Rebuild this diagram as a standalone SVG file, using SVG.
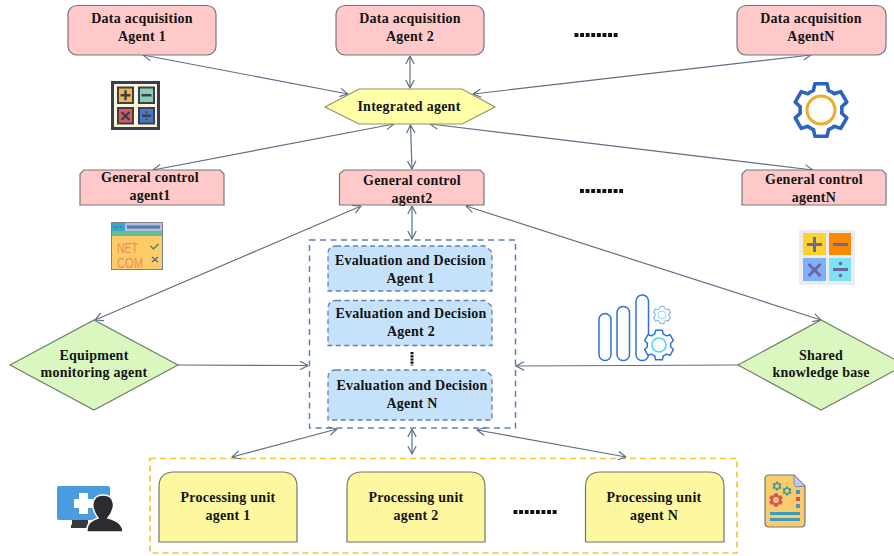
<svg xmlns="http://www.w3.org/2000/svg" xmlns:xlink="http://www.w3.org/1999/xlink" width="894" height="556" viewBox="0 0 894 556">
<style>
text{font-family:"Liberation Serif","Times New Roman",serif;font-weight:bold;font-size:14px;fill:#141414;text-anchor:middle;letter-spacing:.25px}
.pink{fill:#ffc9c9;stroke:#76767f;stroke-width:1.2}
.hex{fill:#ffffa8;stroke:#8f9468;stroke-width:1.2}
.green{fill:#daf7c0;stroke:#6f8068;stroke-width:1.2}
.eval{fill:#c6e2fb;stroke:#5f80b5;stroke-width:1.3;stroke-dasharray:5 3.5}
.pu{fill:#fdf79f;stroke:#73756e;stroke-width:1.2}
.conn line{stroke:#5f6f84;stroke-width:1.2;fill:none;marker-start:url(#a);marker-end:url(#a)}
.conn line.one{marker-start:none}
.dots{stroke:#111;stroke-width:4;stroke-dasharray:3.9 1.7;fill:none}
.ic{stroke:#3a3e50;stroke-width:2}
.net{font-family:"Liberation Sans",Arial,sans-serif;font-weight:normal;font-size:14px;fill:#f58a5a;letter-spacing:0;text-anchor:start}
</style>
<defs>
<marker id="a" viewBox="0 0 10 10" refX="9.5" refY="5" markerWidth="10" markerHeight="10" markerUnits="userSpaceOnUse" orient="auto-start-reverse">
<path d="M1.5 .8L9.5 5L1.5 9.2" fill="none" stroke="#5f6f84" stroke-width="1.2"/>
</marker>
<polyline id="s" points="-10.5,-18.19 -7.53,-19.6 -6.07,-26.3 6.07,-26.3 7.53,-19.6 10.5,-18.19" fill="none" stroke-linejoin="round"/>
<g id="gear">
<use xlink:href="#s"/><use xlink:href="#s" transform="rotate(60)"/><use xlink:href="#s" transform="rotate(120)"/><use xlink:href="#s" transform="rotate(180)"/><use xlink:href="#s" transform="rotate(240)"/><use xlink:href="#s" transform="rotate(300)"/>
</g>
<polygon id="f" points="0,0 -10.5,-18.19 -7.53,-19.6 -6.07,-26.3 6.07,-26.3 7.53,-19.6 10.5,-18.19"/>
<g id="gearf">
<use xlink:href="#f"/><use xlink:href="#f" transform="rotate(60)"/><use xlink:href="#f" transform="rotate(120)"/><use xlink:href="#f" transform="rotate(180)"/><use xlink:href="#f" transform="rotate(240)"/><use xlink:href="#f" transform="rotate(300)"/>
</g>
</defs>
<rect width="894" height="556" fill="#fff"/>

<g id="icon-calc-dark">
<rect x="112.500" y="82.500" width="46" height="46" fill="#fdf6d8" stroke="#3a3e50" stroke-width="3"/>
<rect x="118" y="87.500" width="15" height="15.500" fill="#f4b840" class="ic"/>
<rect x="139" y="87.500" width="15" height="15.500" fill="#8ccfae" class="ic"/>
<rect x="118" y="108" width="15" height="15.500" fill="#dd5a5a" class="ic"/>
<rect x="139" y="108" width="15" height="15.500" fill="#4a78c4" class="ic"/>
<path d="M120.500 95.300H130.500M125.500 90.300V100.300M141.500 95.300H151.500M121.500 112L129.500 120M129.500 112L121.500 120M142 115.800H151" fill="none" stroke="#3a3e50" stroke-width="2.400"/>
<circle cx="146.500" cy="112.300" r="1.100" fill="#3a3e50"/><circle cx="146.500" cy="119.300" r="1.100" fill="#3a3e50"/>
</g>

<g id="icon-net">
<rect x="111.500" y="222.500" width="51" height="47" fill="#fbcc68" stroke="#7c8288" stroke-width="1"/>
<rect x="112" y="223" width="13" height="8" fill="#3aa5c9"/>
<rect x="125" y="223" width="37" height="8" fill="#b7bbe9"/>
<rect x="127" y="225.500" width="33" height="3" fill="#4f7f96"/>
<path d="M114 227H122" stroke="#2a6f94" stroke-width="1" stroke-dasharray="2 1"/>
<rect x="112" y="231" width="50" height="5" fill="#69be8e"/>
<text class="net" x="117" y="252.500" textLength="21" lengthAdjust="spacingAndGlyphs">NET</text>
<text class="net" x="117" y="267.500" textLength="26" lengthAdjust="spacingAndGlyphs">COM</text>
<path d="M150.500 246L153.500 249L158.500 244M152 257L158 262M158 257L152 262" fill="none" stroke="#4d6b78" stroke-width="1.200"/>
</g>

<g id="icon-gear">
<use xlink:href="#gear" transform="translate(821 110)" stroke="#2a63c4" stroke-width="3.600"/>
<circle cx="821" cy="110" r="14" fill="none" stroke="#eeaa2a" stroke-width="3"/>
</g>

<g id="icon-calc-light">
<rect x="799" y="230" width="56" height="55" fill="#ececf0"/>
<rect x="803" y="233" width="23" height="22" fill="#fdd22f"/>
<rect x="829" y="233" width="22" height="22" fill="#f98a05"/>
<rect x="803" y="258" width="23" height="23" fill="#7fb0fb"/>
<rect x="829" y="258" width="22" height="23" fill="#7fe1f5"/>
<path d="M807 244.500H822M814.500 237V252M833 244.500H848M808.500 264L820.500 276M820.500 264L808.500 276M833 269.500H848" fill="none" stroke="#676aa2" stroke-width="3"/>
<circle cx="840.500" cy="263.500" r="1.800" fill="#676aa2"/><circle cx="840.500" cy="275.500" r="1.800" fill="#676aa2"/>
</g>

<g id="icon-bars">
<rect x="599" y="313.500" width="12" height="47" rx="6" fill="#fff" stroke="#2f6fe0" stroke-width="1.500"/>
<rect x="617" y="306.500" width="12.500" height="54" rx="6" fill="#fff" stroke="#2f6fe0" stroke-width="1.500"/>
<rect x="636" y="295" width="12.500" height="65.500" rx="6" fill="#fff" stroke="#2f6fe0" stroke-width="1.500"/>
<use xlink:href="#gearf" transform="translate(659 345) scale(.56)" fill="#fff"/>
<use xlink:href="#gear" transform="translate(659 345) scale(.56)" stroke="#2f6fe0" stroke-width="2.600"/>
<circle cx="659" cy="345" r="7" fill="none" stroke="#45d6ee" stroke-width="1.500"/>
<use xlink:href="#gear" transform="translate(662 315) scale(.33)" stroke="#7fa8ea" stroke-width="3"/>
<circle cx="662" cy="315" r="4" fill="none" stroke="#7fe1f0" stroke-width="1"/>
</g>

<g id="icon-monitor">
<path d="M72 520H88V525H92V528H71V525H72Z" fill="#3a3a3e"/>
<rect x="57" y="486" width="53" height="34" rx="2" fill="#4a9be0"/>
<path d="M79 493H88V499H93V508H88V514H79V508H74V499H79Z" fill="#fff"/>
<path d="M87 532C86 523 92 520 98 518C95 514 92 508 93 503C94 497 98 495 103 495C109 495 113 498 113.500 504C114 509 111 514 108 518C116 520 123 524 123 532Z" fill="#2c2c30" stroke="#fff" stroke-width="1.500"/>
</g>

<g id="icon-doc">
<path d="M769 475H794L805 486V523Q805 527 801 527H769Q765 527 765 523V479Q765 475 769 475Z" fill="#f8cc6c" stroke="#71777f" stroke-width="1.200"/>
<path d="M794 475L805 486L796 487Q794 486 794 483Z" fill="#c3c4ee" stroke="#71777f" stroke-width=".8"/>
<use xlink:href="#gearf" transform="translate(777 486) scale(.17)" fill="#3e9b96"/>
<circle cx="777" cy="486" r="2" fill="#f8cc6c"/>
<use xlink:href="#gearf" transform="translate(787 491) scale(.17)" fill="#3e9b96"/>
<circle cx="787" cy="491" r="2" fill="#f8cc6c"/>
<use xlink:href="#gearf" transform="translate(776 500) scale(.26)" fill="#d84f5c"/>
<circle cx="776" cy="500" r="3" fill="#f8cc6c"/>
<rect x="796" y="490" width="4" height="4" fill="#3e9bc0"/>
<rect x="796" y="497" width="4" height="4" fill="#d84f5c"/>
<rect x="796" y="504" width="4" height="4" fill="#3e9bc0"/>
<rect x="770" y="512" width="30" height="3" fill="#3e9bc0"/>
<rect x="770" y="518" width="30" height="3" fill="#3e9bc0"/>
</g>

<g id="box-eval" fill="none" stroke="#5f80b5" stroke-width="1.500" stroke-dasharray="6 4.500">
<rect x="309.500" y="240" width="206" height="188"/>
</g>
<g id="box-proc" fill="none" stroke="#eec83a" stroke-width="1.700" stroke-dasharray="6 4">
<rect x="150" y="458.500" width="587" height="94.500"/>
</g>

<g id="connectors" class="conn">
<line x1="143" y1="55" x2="348" y2="94"/>
<line x1="410" y1="56" x2="410" y2="88"/>
<line x1="811" y1="55" x2="473" y2="94"/>
<line x1="153" y1="170" x2="394" y2="124"/>
<line x1="410.500" y1="125" x2="412" y2="169"/>
<line x1="813" y1="170" x2="430" y2="124"/>
<line x1="412" y1="206" x2="412" y2="239"/>
<line x1="361" y1="206" x2="95" y2="320"/>
<line x1="466" y1="206" x2="821" y2="320"/>
<line class="one" x1="178" y1="365" x2="308" y2="365.500"/>
<line class="one" x1="738" y1="365" x2="516" y2="366"/>
<line x1="337" y1="429" x2="232" y2="457"/>
<line x1="412" y1="429" x2="412" y2="454"/>
<line x1="477" y1="430" x2="626" y2="457"/>
</g>

<g id="data-agent-1"><rect class="pink" x="68" y="5.500" width="148" height="49.500" rx="9"/><text x="142" y="23">Data acquisition</text><text x="142" y="41">Agent 1</text></g>
<g id="data-agent-2"><rect class="pink" x="336" y="5.500" width="148" height="49.500" rx="9"/><text x="410" y="23">Data acquisition</text><text x="410" y="41">Agent 2</text></g>
<g id="data-agent-n"><rect class="pink" x="737" y="5.500" width="149" height="49.500" rx="9"/><text x="811" y="23">Data acquisition</text><text x="811" y="41">AgentN</text></g>

<g id="integrated-agent"><polygon class="hex" points="325,107 359,89 462,89 495,107 462,124 359,124"/><text x="409" y="111">Integrated agent</text></g>

<g id="general-control-1"><polygon class="pink" points="84,170 220,170 224,174 224,205 80,205 80,174"/><text x="150" y="182">General control</text><text x="150" y="200">agent1</text></g>
<g id="general-control-2"><polygon class="pink" points="344,170 480,170 484,174 484,205 339.500,205 339.500,174"/><text x="412" y="185">General control</text><text x="412" y="203">agent2</text></g>
<g id="general-control-n"><polygon class="pink" points="746,170 882,170 886,174 886,205 742,205 742,174"/><text x="814" y="184">General control</text><text x="814" y="202">agentN</text></g>

<g id="eval-agent-1"><path class="eval" d="M336 246H485L492 252V291H328V254Q328 246 336 246Z"/><text x="410.500" y="265">Evaluation and Decision</text><text x="410.500" y="283">Agent 1</text></g>
<g id="eval-agent-2"><path class="eval" d="M336 300.500H485L492 306.500V345.500H328V308.500Q328 300.500 336 300.500Z"/><text x="411" y="318">Evaluation and Decision</text><text x="411" y="336">Agent 2</text></g>
<g id="eval-agent-n"><path class="eval" d="M336 370H485L492 376V420H328V378Q328 370 336 370Z"/><text x="412" y="390">Evaluation and Decision</text><text x="412" y="408">Agent N</text></g>

<g id="equipment-monitoring"><polygon class="green" points="10,365 94,320 178,365 94,410"/><text x="94" y="360">Equipment</text><text x="94" y="377">monitoring agent</text></g>
<g id="shared-knowledge"><polygon class="green" points="738,365 821,320 905,365 821,410"/><text x="821" y="360">Shared</text><text x="821" y="377">knowledge base</text></g>

<g id="processing-1"><path class="pu" d="M159 542V487Q159 472 174 472H282Q297 472 297 487V542Z"/><text x="228" y="502">Processing unit</text><text x="228" y="520">agent 1</text></g>
<g id="processing-2"><path class="pu" d="M347 542V487Q347 472 362 472H470Q485 472 485 487V542Z"/><text x="416" y="502">Processing unit</text><text x="416" y="520">agent 2</text></g>
<g id="processing-n"><path class="pu" d="M585.500 542V487Q585.500 472 600.500 472H709Q724 472 724 487V542Z"/><text x="654" y="502">Processing unit</text><text x="654" y="520">agent N</text></g>

<g id="ellipses">
<line class="dots" x1="574.500" y1="35" x2="619" y2="35"/>
<line class="dots" x1="580" y1="191" x2="624.500" y2="191"/>
<line class="dots" x1="513.500" y1="512" x2="558" y2="512"/>
<line class="dots" x1="412" y1="352" x2="412" y2="365.500" style="stroke-width:3;stroke-dasharray:2.200 1"/>
</g>
</svg>
